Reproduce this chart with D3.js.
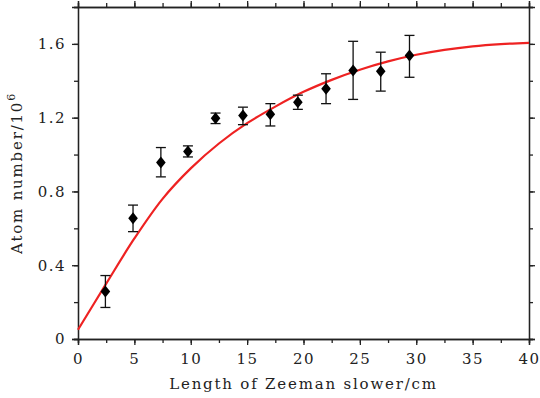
<!DOCTYPE html>
<html>
<head>
<meta charset="utf-8">
<script src="https://d3js.org/d3.v7.min.js"></script>
<style>
  body { margin: 0; background: #fff; }
  .axis path, .axis line { stroke: #222; stroke-width: 1.3; }
  .curve { fill: none; stroke: #ee2222; stroke-width: 2.2; }
  .err { stroke: #111; stroke-width: 1.3; }
  .dot { fill: #000; }
</style>
</head>
<body>
<div id="chart"></div>
<script>
var serif = "'DejaVu Serif', 'Liberation Serif', serif";

// measured points
var lengths = [2.43, 4.88, 7.35, 9.75, 12.2, 14.63, 17.06, 19.5, 22.0, 24.4, 26.85, 29.4];
var atoms   = [0.257, 0.654, 0.957, 1.017, 1.197, 1.212, 1.218, 1.284, 1.357, 1.456, 1.451, 1.537];
var errLow  = [0.171, 0.582, 0.879, 0.987, 1.168, 1.162, 1.155, 1.245, 1.276, 1.299, 1.344, 1.419];
var errHigh = [0.344, 0.726, 1.038, 1.047, 1.225, 1.257, 1.276, 1.322, 1.438, 1.614, 1.555, 1.646];

// fitted curve
var fitX = [0, 2.5, 5, 7.5, 10, 12.5, 15, 17.5, 20, 22.5, 25, 27.5, 30, 32.5, 35, 37.5, 40];
var fitY = [0.05, 0.30, 0.545, 0.76, 0.925, 1.06, 1.17, 1.26, 1.34, 1.405, 1.46, 1.505, 1.541, 1.568, 1.587, 1.599, 1.606];

var xTicks = [0, 5, 10, 15, 20, 25, 30, 35, 40];
var yTicks = [0, 0.4, 0.8, 1.2, 1.6];

var margin = {top: 7, right: 11, bottom: 59, left: 78}
  , width = 540 - margin.left - margin.right
  , height = 398 - margin.top - margin.bottom;

var x = d3.scaleLinear().domain([0, 40]).range([0, width]);
var y = d3.scaleLinear().domain([0, 1.8]).range([height, 0]);

var svg = d3.select("#chart").append("svg")
    .attr("width", 540)
    .attr("height", 398)
  .append("g")
    .attr("transform", "translate(" + margin.left + "," + margin.top + ")");

var xMinor = d3.range(0, 40.01, 2.5);
var yMinor = d3.range(0, 1.801, 0.2);

// minor ticks (all four sides)
svg.append("g").attr("class", "axis")
    .attr("transform", "translate(0," + height + ")")
    .call(d3.axisBottom(x).tickValues(xMinor).tickSize(4).tickFormat(""));
svg.append("g").attr("class", "axis")
    .call(d3.axisTop(x).tickValues(xMinor).tickSize(4).tickFormat(""));
svg.append("g").attr("class", "axis")
    .call(d3.axisLeft(y).tickValues(yMinor).tickSize(4).tickFormat(""));
svg.append("g").attr("class", "axis")
    .attr("transform", "translate(" + width + ",0)")
    .call(d3.axisRight(y).tickValues(yMinor).tickSize(4).tickFormat(""));

// major ticks with labels
svg.append("g").attr("class", "axis x")
    .attr("transform", "translate(0," + height + ")")
    .call(d3.axisBottom(x).tickValues(xTicks).tickSize(6).tickPadding(8).tickFormat(d3.format("d")));
svg.append("g").attr("class", "axis")
    .call(d3.axisTop(x).tickValues(xTicks).tickSize(6).tickFormat(""));
svg.append("g").attr("class", "axis y")
    .call(d3.axisLeft(y).tickValues(yTicks).tickSize(6).tickPadding(6)
      .tickFormat(function(d) { return d === 0 ? "0" : d3.format(".1f")(d); }));
svg.append("g").attr("class", "axis")
    .attr("transform", "translate(" + width + ",0)")
    .call(d3.axisRight(y).tickValues(yTicks).tickSize(6).tickFormat(""));

svg.selectAll(".axis").attr("font-family", serif).attr("font-size", 15);
svg.selectAll(".axis text")
    .style("font-family", serif)
    .style("font-size", "15px")
    .style("letter-spacing", "1.5px")
    .attr("fill", "#222");

// fit curve
var fit = fitX.map(function(d, i) { return {x: d, y: fitY[i]}; });
var line = d3.line()
    .x(function(d) { return x(d.x); })
    .y(function(d) { return y(d.y); })
    .curve(d3.curveCatmullRom.alpha(0.5));

svg.append("path")
    .datum(fit)
    .attr("class", "curve")
    .attr("d", line);

// error bars
var pts = lengths.map(function(d, i) {
  return {x: d, y: atoms[i], lo: errLow[i], hi: errHigh[i]};
});
var cap = 5;
var eb = svg.selectAll(".eb").data(pts).enter().append("g").attr("class", "eb");
eb.append("line").attr("class", "err")
    .attr("x1", function(d) { return x(d.x); }).attr("x2", function(d) { return x(d.x); })
    .attr("y1", function(d) { return y(d.lo); }).attr("y2", function(d) { return y(d.hi); });
eb.append("line").attr("class", "err")
    .attr("x1", function(d) { return x(d.x) - cap; }).attr("x2", function(d) { return x(d.x) + cap; })
    .attr("y1", function(d) { return y(d.lo); }).attr("y2", function(d) { return y(d.lo); });
eb.append("line").attr("class", "err")
    .attr("x1", function(d) { return x(d.x) - cap; }).attr("x2", function(d) { return x(d.x) + cap; })
    .attr("y1", function(d) { return y(d.hi); }).attr("y2", function(d) { return y(d.hi); });

// diamond markers
svg.selectAll(".dot")
    .data(pts)
    .enter().append("path")
    .attr("class", "dot")
    .attr("transform", function(d) { return "translate(" + x(d.x) + "," + y(d.y) + ")"; })
    .attr("d", "M0,-6L4.8,0L0,6L-4.8,0Z");

// axis titles
svg.append("text")
    .attr("x", width / 2)
    .attr("y", height + 50)
    .attr("text-anchor", "middle")
    .attr("fill", "#222")
    .style("font-family", serif)
    .style("font-size", "15px")
    .style("letter-spacing", "1.8px")
    .text("Length of Zeeman slower/cm");

var yt = svg.append("text")
    .attr("transform", "translate(" + (-56) + "," + (height / 2) + ") rotate(-90)")
    .attr("text-anchor", "middle")
    .attr("fill", "#222")
    .style("font-family", serif)
    .style("font-size", "15px")
    .style("letter-spacing", "1.8px");
yt.append("tspan").text("Atom number/10");
yt.append("tspan").attr("dy", -7).style("font-size", "11px").text("6");
</script>
</body>
</html>
